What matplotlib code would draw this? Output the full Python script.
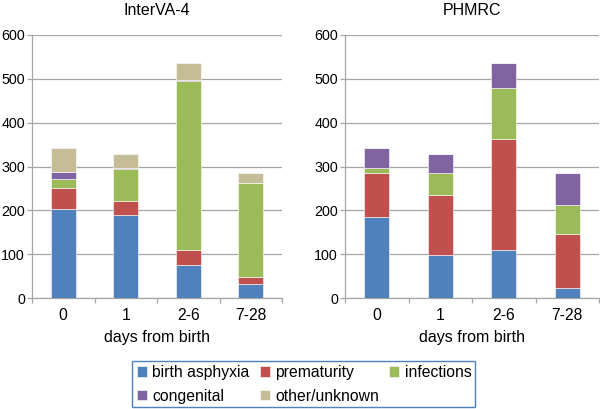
import matplotlib
matplotlib.use("Agg")
import matplotlib.pyplot as plt
import numpy as np
from matplotlib.patches import Rectangle

plt.rcParams['font.family'] = ['Liberation Sans', 'DejaVu Sans']

categories = ["0", "1", "2-6", "7-28"]
causes = ["birth asphyxia", "prematurity", "infections", "congenital", "other/unknown"]
colors = ["#4F81BD", "#C0504D", "#9BBB59", "#8064A2", "#C4BD97"]

interva_asphyxia = [202, 190, 76, 32]
interva_prematurity = [48, 31, 33, 17]
interva_infections = [21, 73, 386, 214]
interva_congenital = [17, 3, 3, 0]
interva_other = [55, 32, 37, 22]

phmrc_asphyxia = [184, 97, 110, 22]
phmrc_prematurity = [101, 137, 253, 123]
phmrc_infections = [12, 52, 116, 67]
phmrc_congenital = [46, 43, 56, 73]
phmrc_other = [0, 0, 0, 0]

panels = [
    ("InterVA-4", [interva_asphyxia, interva_prematurity, interva_infections, interva_congenital, interva_other]),
    ("PHMRC", [phmrc_asphyxia, phmrc_prematurity, phmrc_infections, phmrc_congenital, phmrc_other]),
]

W, H = 600, 409
fig = plt.figure(figsize=(W/100, H/100), dpi=100)
axes_rects = [
    [32/W, 1-298/H, 250/W, 263/H],
    [345/W, 1-298/H, 254/W, 263/H],
]
grid_c = "#A6A6A6"
handles = {}
for (title, series), rect in zip(panels, axes_rects):
    ax = fig.add_axes(rect)
    x = np.arange(len(categories))
    bottom = np.zeros(len(categories))
    for name, vals, c in zip(causes, series, colors):
        vals = np.array(vals, dtype=float)
        b = ax.bar(x, vals, width=0.4, bottom=bottom, color=c, edgecolor="white", linewidth=0.4, zorder=3)
        handles[name] = b
        bottom += vals
    ax.set_xlim(-0.5, 3.5)
    ax.set_ylim(0, 600)
    ax.set_yticks(range(0, 601, 100))
    ax.yaxis.grid(True, color=grid_c, linewidth=0.9, zorder=0)
    ax.set_axisbelow(True)
    for s in ["top", "right"]:
        ax.spines[s].set_visible(False)
    for s in ["left", "bottom"]:
        ax.spines[s].set_color(grid_c)
        ax.spines[s].set_linewidth(0.9)
    ax.set_xticks(x)
    ax.set_xticklabels(categories)
    ax.tick_params(axis="x", length=0, labelsize=11.3, pad=7)
    ax.set_xticks(np.arange(-0.5, 4.0, 1.0), minor=True)
    ax.tick_params(axis="x", which="minor", length=3.6, color=grid_c, width=0.9)
    ax.tick_params(axis="y", length=3.6, color=grid_c, width=0.9, labelsize=10.3, pad=1.5)
    ax.set_title(title, fontsize=11.5, pad=14.5)
    ax.set_xlabel("days from birth", fontsize=11.5, labelpad=5)

order = ["birth asphyxia", "congenital", "prematurity", "other/unknown", "infections"]
leg = fig.legend([handles[n] for n in order], order, ncol=3, loc="upper left",
                 bbox_to_anchor=(137/W, 1-365/H), frameon=False, fontsize=11.3,
                 handlelength=0.65, handleheight=0.65, handletextpad=0.33,
                 columnspacing=0.65, borderpad=0, borderaxespad=0, labelspacing=0.55)
fig.patches.append(Rectangle((132/W, 1-407/H), 343/W, 46/H, transform=fig.transFigure,
                             fill=False, edgecolor="#4F81BD", linewidth=1.0))

fig.savefig("out.png", dpi=100)
